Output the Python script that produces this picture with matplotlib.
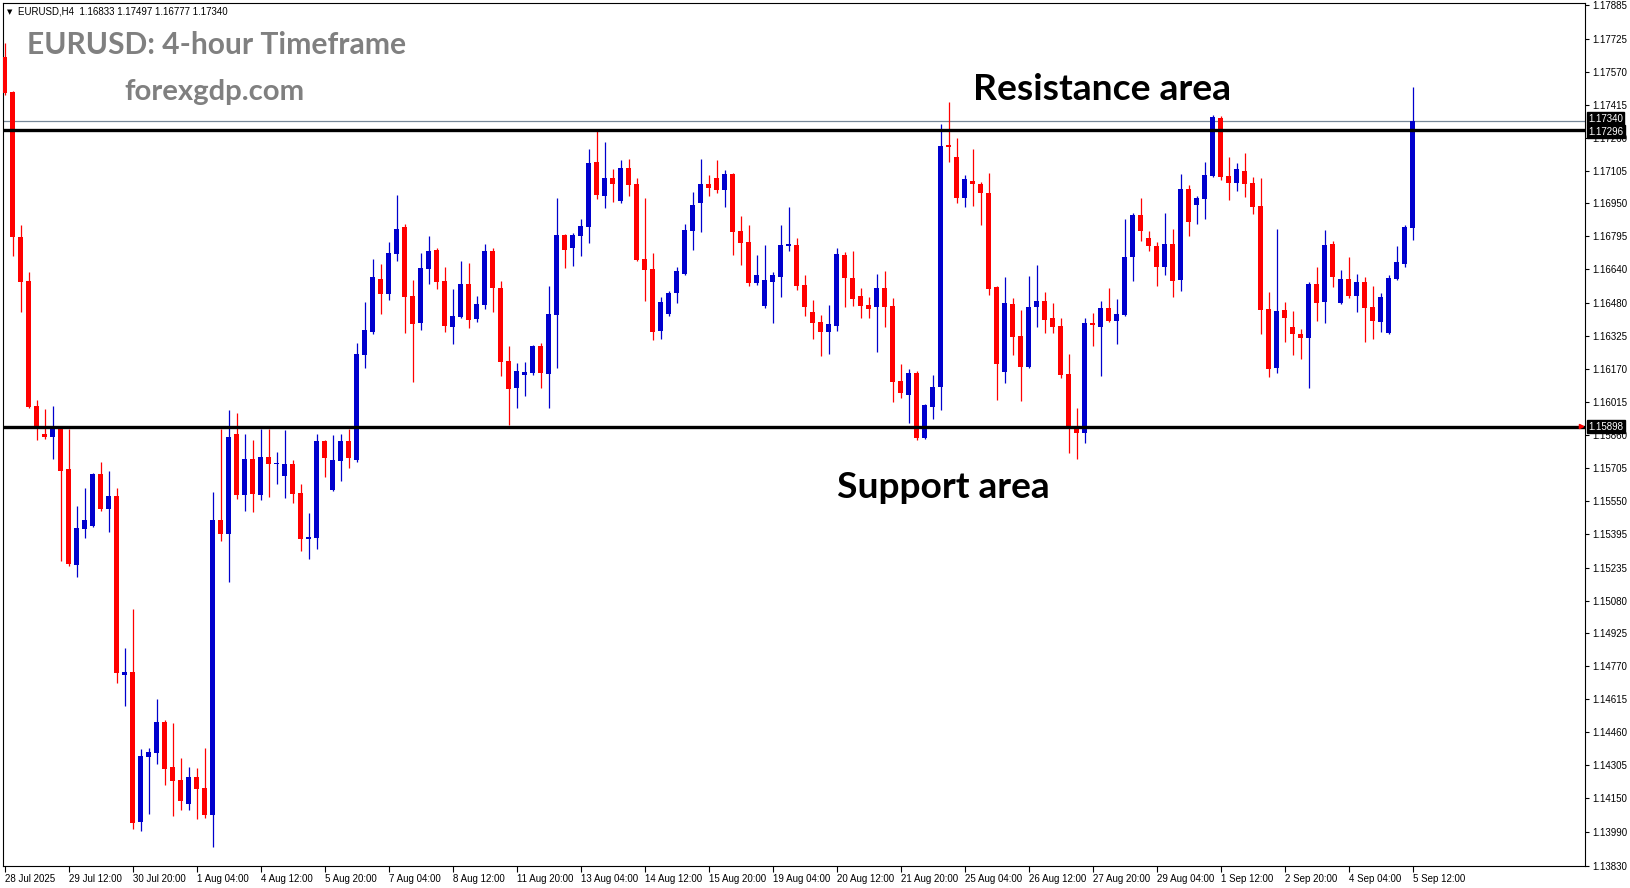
import matplotlib.pyplot as plt
import matplotlib.transforms as mtransforms
import numpy as np

plt.rcParams['font.family'] = ['Liberation Sans', 'DejaVu Sans']

# EURUSD H4 candles, 28 Jul 2025 04:00 .. 5 Sep 2025 12:00
opens = [1.17640, 1.17476, 1.16793, 1.16586, 1.15997, 1.15865, 1.15851, 1.15898, 1.15700, 1.15248,
         1.15417, 1.15432, 1.15676, 1.15512, 1.15573, 1.14730, 1.14744, 1.14037, 1.14343, 1.14362,
         1.14509, 1.14296, 1.14235, 1.14122, 1.14249, 1.14197, 1.14070, 1.15460, 1.15394, 1.15865,
         1.15578, 1.15747, 1.15578, 1.15757, 1.15724, 1.15667, 1.15724, 1.15587, 1.15370, 1.15375,
         1.15832, 1.15601, 1.15738, 1.15832, 1.15742, 1.16237, 1.16345, 1.16595, 1.16524, 1.16713,
         1.16840, 1.16515, 1.16388, 1.16642, 1.16731, 1.16586, 1.16369, 1.16416, 1.16571, 1.16407,
         1.16472, 1.16727, 1.16552, 1.16209, 1.16082, 1.16143, 1.16152, 1.16279, 1.16148, 1.16425,
         1.16802, 1.16741, 1.16797, 1.16840, 1.17146, 1.16986, 1.17070, 1.16962, 1.17117, 1.17042,
         1.16689, 1.16642, 1.16350, 1.16430, 1.16529, 1.16618, 1.16821, 1.16953, 1.17042, 1.17070,
         1.17014, 1.17089, 1.16821, 1.16769, 1.16576, 1.16468, 1.16581, 1.16604, 1.16750, 1.16755,
         1.16567, 1.16440, 1.16392, 1.16345, 1.16374, 1.16708, 1.16600, 1.16515, 1.16472, 1.16463,
         1.16552, 1.16468, 1.16115, 1.16049, 1.16152, 1.15846, 1.15992, 1.16086, 1.17226, 1.17169,
         1.16976, 1.17056, 1.17042, 1.17000, 1.16557, 1.16157, 1.16477, 1.16326, 1.16181, 1.16463,
         1.16491, 1.16411, 1.16374, 1.16148, 1.15898, 1.15870, 1.16388, 1.16369, 1.16458, 1.16397,
         1.16425, 1.16699, 1.16897, 1.16788, 1.16750, 1.16651, 1.16760, 1.16590, 1.17019, 1.16943,
         1.16972, 1.17080, 1.17353, 1.17080, 1.17047, 1.17104, 1.17047, 1.16939, 1.16454, 1.16176,
         1.16449, 1.16369, 1.16336, 1.16317, 1.16571, 1.16487, 1.16760, 1.16482, 1.16595, 1.16515,
         1.16581, 1.16463, 1.16392, 1.16341, 1.16595, 1.16666, 1.16833]
highs = [1.17707, 1.17481, 1.16849, 1.16628, 1.16025, 1.15983, 1.15997, 1.15903, 1.15889, 1.15526,
         1.15611, 1.15681, 1.15733, 1.15690, 1.15611, 1.14857, 1.15041, 1.14382, 1.14386, 1.14617,
         1.14518, 1.14504, 1.14338, 1.14296, 1.14291, 1.14386, 1.15592, 1.15889, 1.15978, 1.15964,
         1.15865, 1.15837, 1.15889, 1.15889, 1.15780, 1.15884, 1.15742, 1.15629, 1.15493, 1.15865,
         1.15837, 1.15860, 1.15865, 1.15889, 1.16294, 1.16487, 1.16689, 1.16665, 1.16769, 1.16991,
         1.16854, 1.16590, 1.16717, 1.16797, 1.16741, 1.16651, 1.16548, 1.16680, 1.16670, 1.16515,
         1.16760, 1.16741, 1.16586, 1.16279, 1.16200, 1.16204, 1.16284, 1.16294, 1.16562, 1.16976,
         1.16807, 1.16811, 1.16878, 1.17207, 1.17292, 1.17240, 1.17113, 1.17155, 1.17160, 1.17070,
         1.16976, 1.16717, 1.16510, 1.16538, 1.16651, 1.16854, 1.17005, 1.17160, 1.17085, 1.17155,
         1.17108, 1.17094, 1.16892, 1.16849, 1.16708, 1.16755, 1.16628, 1.16849, 1.16934, 1.16788,
         1.16614, 1.16496, 1.16425, 1.16472, 1.16741, 1.16722, 1.16727, 1.16552, 1.16510, 1.16618,
         1.16633, 1.16505, 1.16195, 1.16171, 1.16162, 1.16006, 1.16143, 1.17325, 1.17429, 1.17259,
         1.17085, 1.17207, 1.17052, 1.17094, 1.16562, 1.16604, 1.16505, 1.16449, 1.16609, 1.16661,
         1.16534, 1.16482, 1.16411, 1.16242, 1.15987, 1.16411, 1.16435, 1.16491, 1.16552, 1.16501,
         1.16878, 1.16906, 1.16976, 1.16821, 1.16769, 1.16906, 1.16830, 1.17089, 1.17037, 1.16986,
         1.17146, 1.17367, 1.17363, 1.17169, 1.17141, 1.17188, 1.17075, 1.17070, 1.16534, 1.16830,
         1.16487, 1.16444, 1.16359, 1.16581, 1.16651, 1.16826, 1.16774, 1.16637, 1.16699, 1.16618,
         1.16604, 1.16562, 1.16529, 1.16614, 1.16750, 1.16849, 1.17497]
lows = [1.17461, 1.16703, 1.16440, 1.15987, 1.15837, 1.15841, 1.15747, 1.15266, 1.15243, 1.15191,
        1.15375, 1.15427, 1.15502, 1.15404, 1.14692, 1.14584, 1.14005, 1.13995, 1.14075, 1.14310,
        1.14211, 1.14066, 1.14094, 1.14094, 1.14052, 1.14056, 1.13920, 1.15361, 1.15168, 1.15559,
        1.15502, 1.15497, 1.15554, 1.15568, 1.15629, 1.15563, 1.15540, 1.15314, 1.15276, 1.15323,
        1.15662, 1.15596, 1.15643, 1.15705, 1.15733, 1.16176, 1.16336, 1.16430, 1.16496, 1.16680,
        1.16341, 1.16110, 1.16355, 1.16571, 1.16548, 1.16345, 1.16289, 1.16411, 1.16364, 1.16392,
        1.16454, 1.16440, 1.16138, 1.15907, 1.15987, 1.16044, 1.16143, 1.16082, 1.15987, 1.16176,
        1.16647, 1.16656, 1.16703, 1.16764, 1.16972, 1.16929, 1.16958, 1.16953, 1.16986, 1.16680,
        1.16491, 1.16307, 1.16312, 1.16421, 1.16482, 1.16614, 1.16731, 1.16816, 1.16986, 1.17000,
        1.16934, 1.16708, 1.16661, 1.16562, 1.16567, 1.16458, 1.16388, 1.16510, 1.16727, 1.16543,
        1.16421, 1.16312, 1.16232, 1.16242, 1.16350, 1.16463, 1.16468, 1.16411, 1.16411, 1.16251,
        1.16369, 1.16016, 1.16034, 1.15917, 1.15837, 1.15841, 1.15936, 1.15978, 1.17146, 1.16953,
        1.16934, 1.16939, 1.16849, 1.16519, 1.16025, 1.16105, 1.16237, 1.16020, 1.16176, 1.16369,
        1.16341, 1.16341, 1.16129, 1.15775, 1.15747, 1.15822, 1.16279, 1.16138, 1.16392, 1.16289,
        1.16421, 1.16586, 1.16774, 1.16727, 1.16562, 1.16614, 1.16510, 1.16538, 1.16797, 1.16854,
        1.16878, 1.17075, 1.17061, 1.16967, 1.17009, 1.16981, 1.16901, 1.16336, 1.16133, 1.16152,
        1.16298, 1.16237, 1.16218, 1.16082, 1.16397, 1.16388, 1.16557, 1.16477, 1.16505, 1.16440,
        1.16298, 1.16312, 1.16345, 1.16336, 1.16590, 1.16651, 1.16777]
closes = [1.17471, 1.16793, 1.16581, 1.15992, 1.15889, 1.15851, 1.15889, 1.15690, 1.15252, 1.15422,
          1.15460, 1.15676, 1.15512, 1.15573, 1.14739, 1.14744, 1.14033, 1.14348, 1.14367, 1.14509,
          1.14287, 1.14230, 1.14136, 1.14249, 1.14193, 1.14070, 1.15460, 1.15394, 1.15851, 1.15578,
          1.15747, 1.15582, 1.15757, 1.15724, 1.15728, 1.15724, 1.15582, 1.15370, 1.15380, 1.15832,
          1.15752, 1.15742, 1.15832, 1.15752, 1.16242, 1.16355, 1.16604, 1.16524, 1.16717, 1.16830,
          1.16510, 1.16383, 1.16647, 1.16727, 1.16581, 1.16374, 1.16421, 1.16571, 1.16402, 1.16477,
          1.16727, 1.16552, 1.16204, 1.16077, 1.16162, 1.16157, 1.16279, 1.16152, 1.16430, 1.16802,
          1.16731, 1.16802, 1.16845, 1.17141, 1.16991, 1.17070, 1.17042, 1.17117, 1.17037, 1.16684,
          1.16637, 1.16345, 1.16487, 1.16529, 1.16633, 1.16826, 1.16943, 1.17042, 1.17023, 1.17014,
          1.17089, 1.16816, 1.16764, 1.16576, 1.16614, 1.16590, 1.16614, 1.16755, 1.16760, 1.16562,
          1.16463, 1.16388, 1.16345, 1.16383, 1.16713, 1.16600, 1.16501, 1.16468, 1.16454, 1.16552,
          1.16463, 1.16110, 1.16058, 1.16152, 1.15846, 1.16001, 1.16086, 1.17221, 1.17216, 1.16976,
          1.17066, 1.17042, 1.17000, 1.16548, 1.16195, 1.16482, 1.16322, 1.16181, 1.16463, 1.16491,
          1.16402, 1.16369, 1.16143, 1.15893, 1.15870, 1.16388, 1.16378, 1.16458, 1.16397, 1.16430,
          1.16699, 1.16897, 1.16821, 1.16750, 1.16651, 1.16760, 1.16586, 1.17019, 1.16863, 1.16976,
          1.17085, 1.17358, 1.17075, 1.17047, 1.17113, 1.17042, 1.16934, 1.16449, 1.16171, 1.16444,
          1.16411, 1.16336, 1.16317, 1.16571, 1.16482, 1.16755, 1.16604, 1.16595, 1.16515, 1.16581,
          1.16458, 1.16397, 1.16510, 1.16600, 1.16675, 1.16840, 1.17340]

time_labels = ['28 Jul 2025', '29 Jul 12:00', '30 Jul 20:00', '1 Aug 04:00', '4 Aug 12:00',
               '5 Aug 20:00', '7 Aug 04:00', '8 Aug 12:00', '11 Aug 20:00', '13 Aug 04:00',
               '14 Aug 12:00', '15 Aug 20:00', '19 Aug 04:00', '20 Aug 12:00', '21 Aug 20:00',
               '25 Aug 04:00', '26 Aug 12:00', '27 Aug 20:00', '29 Aug 04:00', '1 Sep 12:00',
               '2 Sep 20:00', '4 Sep 04:00', '5 Sep 12:00']
price_ticks = [1.17885, 1.17725, 1.17570, 1.17415, 1.17260, 1.17105, 1.16950, 1.16795, 1.16640,
               1.16480, 1.16325, 1.16170, 1.16015, 1.15860, 1.15705, 1.15550, 1.15395, 1.15235,
               1.15080, 1.14925, 1.14770, 1.14615, 1.14460, 1.14305, 1.14150, 1.13990, 1.13830]

resistance = 1.17296
support = 1.15898
bid = closes[-1]

W, H = 1631, 888
fig = plt.figure(figsize=(W / 100, H / 100), dpi=100)
ax = fig.add_axes([3 / W, 22 / H, 1582 / W, 863 / H])

o = np.array(opens)
c = np.array(closes)
hi = np.array(highs)
lo = np.array(lows)
idx = np.arange(len(o))
cols = np.where(c > o, '#0000CD', '#FF0000')

# candles
ax.vlines(idx, lo, hi, colors=cols, linewidth=0.9, zorder=2)
body = np.maximum(np.abs(c - o), 0.00004)
ax.bar(idx, body, bottom=np.minimum(o, c), width=0.62, color=cols, linewidth=0, zorder=3)

# levels
ax.axhline(bid, color='#778899', linewidth=0.9, zorder=1)
ax.axhline(resistance, color='black', linewidth=2.4, zorder=4)
ax.axhline(support, color='black', linewidth=2.4, zorder=4)
ax.plot([197.0], [support + 0.00006], marker='>', color='red', markersize=3, clip_on=False, zorder=5)

ax.set_xlim(-0.2, 197.55)
ax.set_ylim(1.13830, 1.17894)

ax.yaxis.tick_right()
ax.set_yticks(price_ticks)
ax.set_yticklabels([f'{p:.5f}' for p in price_ticks])
ax.tick_params(axis='y', direction='out', length=3, width=0.8, labelsize=7, pad=2)

ax.set_xticks(np.arange(0, len(o), 8))
ax.set_xticklabels(time_labels, ha='left')
ax.tick_params(axis='x', direction='out', length=4, width=0.8, labelsize=7, pad=2)
for s in ax.spines.values():
    s.set_linewidth(0.8)
    s.set_color('black')

# price boxes on the right scale
trans = mtransforms.blended_transform_factory(ax.transAxes, ax.transData)
for val, dy in [(bid, 0.00008), (resistance, -0.00008), (support, 0.0)]:
    ax.text(1.002, val + dy, f'{val:.5f}', transform=trans, color='white', fontsize=7,
            va='center', ha='left', zorder=6, clip_on=False,
            bbox=dict(boxstyle='square,pad=0.15', fc='black', ec='black'))

# header
fig.text(7 / W, 1 - 14 / H, '\u25bc', fontsize=5, family='DejaVu Sans', va='baseline')
fig.text(18 / W, 1 - 14 / H,
         f'EURUSD,H4  {opens[-1]:.5f} {highs[-1]:.5f} {lows[-1]:.5f} {closes[-1]:.5f}',
         fontsize=7, va='baseline')

labels = []
labels.append((fig.text(27 / W, 1 - 54 / H, 'EURUSD: 4-hour Timeframe', fontsize=22,
                        family='Lato', weight='bold', color='#808080', va='baseline'), 378))
labels.append((fig.text(124 / W, 1 - 100 / H, 'forexgdp.com', fontsize=22,
                        family='Lato', weight='bold', color='#808080', va='baseline'), 180))
labels.append((fig.text(973 / W, 1 - 100 / H, 'Resistance area', fontsize=26,
                        family='Lato', weight='bold', color='black', va='baseline'), 258))
labels.append((fig.text(837 / W, 1 - 498 / H, 'Support area', fontsize=26,
                        family='Lato', weight='bold', color='black', va='baseline'), 213))

# scale big texts to their width in the picture
r = fig.canvas.get_renderer()
for t, target in labels:
    w = t.get_window_extent(renderer=r).width
    t.set_fontsize(t.get_fontsize() * target / w)

fig.savefig('out.png', dpi=100)
